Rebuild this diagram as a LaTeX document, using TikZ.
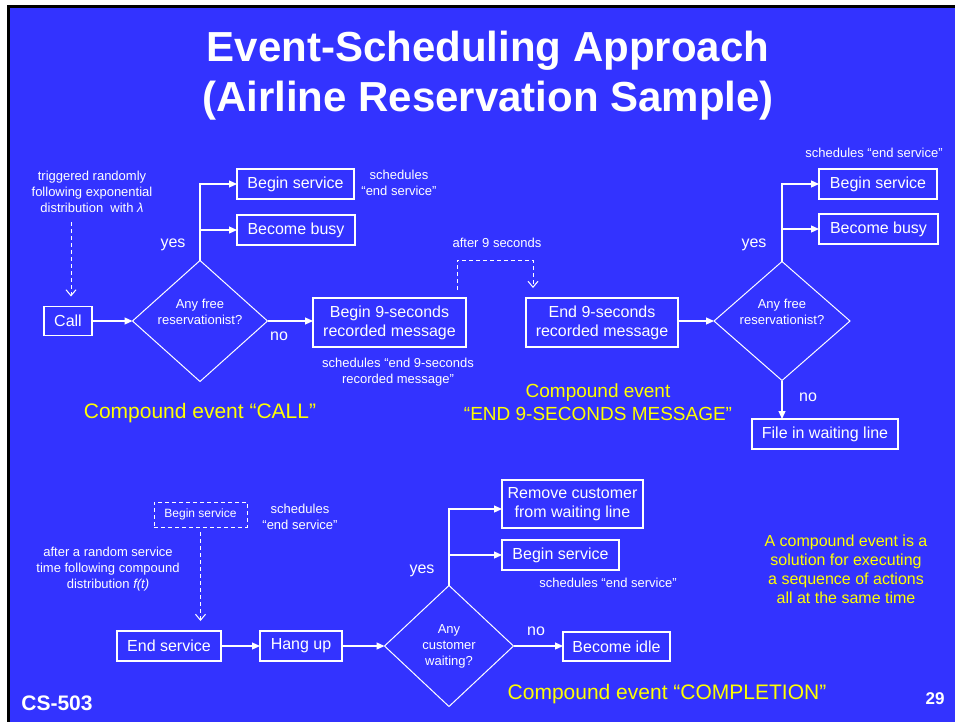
\documentclass[tikz,border=0pt]{standalone}
\usepackage{fontspec}
\setmainfont{Liberation Sans}
\usetikzlibrary{shapes.geometric,arrows.meta}
\definecolor{slideblue}{RGB}{51,51,255}
\definecolor{slideyellow}{RGB}{255,255,0}

\begin{document}
\begin{tikzpicture}[x=1pt,y=-1pt,
  every node/.style={inner sep=0pt, outer sep=0pt},
  box/.style={draw=white, line width=1.2pt, text=white, align=center,
              font=\fontsize{16}{19}\selectfont},
  dashbox/.style={box, dash pattern=on 4pt off 3pt, line width=1pt,
              font=\fontsize{12}{14}\selectfont},
  lbl/.style={text=white, font=\fontsize{16}{19}\selectfont},
  note/.style={text=white, align=center, font=\fontsize{13}{16}\selectfont},
  decision/.style={draw=white, line width=1pt, shape=diamond},
  callout/.style={text=slideyellow, align=center, font=\fontsize{21}{22}\selectfont},
  conn/.style={draw=white, line width=1.2pt, -{Triangle[length=8pt,width=7pt]}},
  dconn/.style={draw=white, line width=1pt, dash pattern=on 4pt off 3pt,
              -{Straight Barb[length=6pt,width=10pt]}},
]
\useasboundingbox (0,0) rectangle (955,722);

% slide background with its frame
\fill[white] (0,0) rectangle (955,722);
\fill[black] (6.5,5.5) rectangle (955,722);
\fill[slideblue] (9.5,8.5) rectangle (955,722);

% title
\node[text=white, align=center, font=\bfseries\fontsize{42}{50}\selectfont]
  (title) at (488,76) {Event-Scheduling Approach\\(Airline Reservation Sample)};

% ---------------- compound event CALL ----------------
\node[note] (trig) at (92,192) {triggered randomly\\following exponential\\distribution~ with \textit{λ}};
\node[box, minimum width=48pt, minimum height=29pt] (call) at (68,321) {Call};
\node[decision, minimum width=135pt, minimum height=121pt,
      label={[note, yshift=9pt]center:Any free\\reservationist?}] (d1) at (200,321) {};
\node[box, minimum width=117pt, minimum height=30pt] (bs1) at (295.5,184) {Begin service};
\node[box, minimum width=118pt, minimum height=30pt] (bb1) at (296,230) {Become busy};
\node[lbl] (yes1) at (173,245) {yes};
\node[lbl] (no1) at (279,336) {no};
\node[note] (sched1) at (399,183) {schedules\\“end service”};
\node[box, minimum width=153pt, minimum height=49pt] (b9) at (389.5,322.5) {Begin 9-seconds\\recorded message};
\node[note] (sched2) at (398,372) {schedules “end 9-seconds\\recorded message”};
\node[callout] (callLbl) at (200,413) {Compound event “CALL”};

\coordinate (t1) at (71,222);
\draw[dconn, shorten >=10pt] (t1) -- (t1 |- call.north);
\draw[conn] (call.east) -- (d1.west);
\draw[conn] (d1.north) |- (bs1.west);
\draw[conn] (d1.north) |- (bb1.west);
\draw[conn] (d1.east) -- (d1.east -| b9.west);

% ---------------- compound event END 9-SECONDS MESSAGE ----------------
\node[note] (after9) at (497,243) {after 9 seconds};
\node[box, minimum width=152pt, minimum height=49pt] (e9) at (602,322.5) {End 9-seconds\\recorded message};
\node[decision, minimum width=136pt, minimum height=119pt,
      label={[note, yshift=9pt]center:Any free\\reservationist?}] (d2) at (782,321) {};
\node[box, minimum width=118pt, minimum height=30pt] (bs2) at (878,184) {Begin service};
\node[box, minimum width=119pt, minimum height=30pt] (bb2) at (878.5,229) {Become busy};
\node[lbl] (yes2) at (754,245) {yes};
\node[note] (sched3) at (874,153) {schedules “end service”};
\node[lbl] (no2) at (808,397) {no};
\node[box, minimum width=146pt, minimum height=30pt] (fw) at (825,434) {File in waiting line};
\node[callout, font=\fontsize{19}{23}\selectfont] (endLbl) at (598,402)
  {Compound event\\“END 9-SECONDS MESSAGE”};

\coordinate (k1) at (457,260);
\coordinate (k2) at (533,260);
\draw[dconn, shorten <=8pt, shorten >=10pt] (k1 |- b9.north) -- (k1) -- (k2) -- (k2 |- e9.north);
\draw[conn] (e9.east |- d2.west) -- (d2.west);
\draw[conn] (d2.north) |- (bs2.west);
\draw[conn] (d2.north) |- (bb2.west);
\draw[conn] (d2.south) -- (d2.south |- fw.north);

% ---------------- compound event COMPLETION ----------------
\node[dashbox, minimum width=93pt, minimum height=25pt] (bsd) at (200.5,514.5) {Begin service};
\node[note] (sched4) at (300,517) {schedules\\“end service”};
\node[note] (afterRand) at (108,569) {after a random service\\time following compound\\distribution \textit{f(t)}};
\node[box, minimum width=104pt, minimum height=30pt] (es) at (169,646) {End service};
\node[box, minimum width=82pt, minimum height=30pt] (hu) at (301,646) {Hang up};
\node[decision, minimum width=129pt, minimum height=121pt,
      label={[note]center:Any\\customer\\waiting?}] (d3) at (449,646) {};
\node[box, minimum width=141pt, minimum height=48pt] (rc) at (572.5,504) {Remove customer\\from waiting line};
\node[box, minimum width=117pt, minimum height=30pt] (bs3) at (560.5,555) {Begin service};
\node[lbl] (yes3) at (422,571) {yes};
\node[note] (sched5) at (608,583) {schedules “end service”};
\node[lbl] (no3) at (536,631) {no};
\node[box, minimum width=107pt, minimum height=29pt] (bi) at (616.5,646.5) {Become idle};
\node[callout] (complLbl) at (667,694) {Compound event “COMPLETION”};
\node[text=slideyellow, align=center, font=\fontsize{16}{19}\selectfont] (remark) at (846,569.5)
  {A compound event is a\\solution for executing\\a sequence of actions\\all at the same time};

\draw[dconn, shorten <=5pt, shorten >=10pt] (bsd.south) -- (bsd.south |- es.north);
\draw[conn] (es.east) -- (hu.west);
\draw[conn] (hu.east) -- (d3.west);
\draw[conn] (d3.north) |- ([yshift=-5pt]rc.west);
\draw[conn] (d3.north) |- (bs3.west);
\draw[conn] (d3.east) -- (d3.east -| bi.west);

% footer
\node[text=white, font=\bfseries\fontsize{21}{24}\selectfont] (course) at (57,703) {CS-503};
\node[text=white, font=\bfseries\fontsize{17}{20}\selectfont] (page) at (935,699) {29};
\end{tikzpicture}
\end{document}
